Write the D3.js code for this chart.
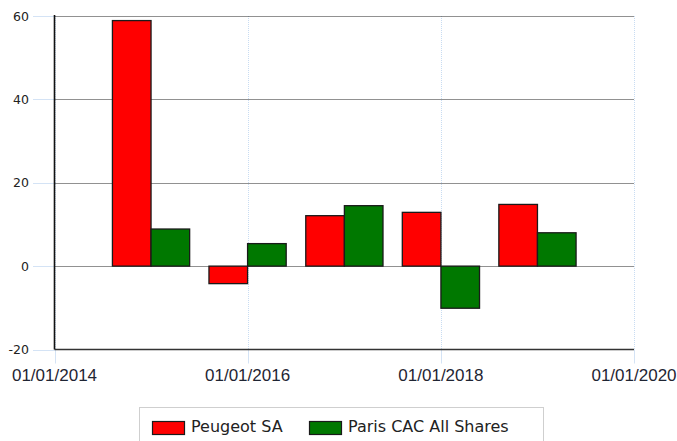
<!DOCTYPE html>
<html>
<head>
<meta charset="utf-8">
<script src="https://cdn.jsdelivr.net/npm/d3@7"></script>
<style>
  html, body { margin: 0; padding: 0; background: #fff; }
  svg { display: block; }
</style>
</head>
<body>
<svg id="chart" width="677" height="441"></svg>
<script>
// ---- data ----
const periods = ["2015-01-01", "2016-01-01", "2017-01-01", "2018-01-01", "2019-01-01"];
const seriesNames = ["Peugeot SA", "Paris CAC All Shares"];
const peugeot = [58.9, -4.2, 12.1, 12.9, 14.8];
const cac = [8.9, 5.4, 14.5, -10.1, 8.0];
const yTicks = [-20, 0, 20, 40, 60];
const xTickLabels = ["01/01/2014", "01/01/2016", "01/01/2018", "01/01/2020"];
const colors = ["#ff0000", "#007800"];

// ---- setup ----
const parse = d3.timeParse("%Y-%m-%d");
const parseTick = d3.timeParse("%d/%m/%Y");
const svg = d3.select("#chart");
const pLeft = 54.5, pRight = 634, pTop = 16, pBottom = 349.5;

const x = d3.scaleTime()
  .domain([parseTick("01/01/2014"), parseTick("01/01/2020")])
  .range([pLeft, pRight]);
const y = d3.scaleLinear().domain([-20, 60]).range([pBottom, pTop]);

const barDays = 146;
const xTickDates = xTickLabels.map(parseTick);

// vertical light-blue gridlines & ticks
const vg = svg.append("g");
xTickDates.forEach(d => {
  vg.append("line")
    .attr("x1", Math.round(x(d)) + 0.5).attr("x2", Math.round(x(d)) + 0.5)
    .attr("y1", pTop).attr("y2", pBottom)
    .attr("stroke", "#c8dcf2").attr("stroke-width", 1)
    .attr("stroke-dasharray", "1,1");
  vg.append("line")
    .attr("x1", Math.round(x(d)) + 0.5).attr("x2", Math.round(x(d)) + 0.5)
    .attr("y1", pBottom).attr("y2", pBottom + 14)
    .attr("stroke", "#d4e3f5").attr("stroke-width", 1);
});

// horizontal dotted gridlines
yTicks.filter(t => t > -20).forEach(t => {
  svg.append("line")
    .attr("x1", pLeft).attr("x2", pRight)
    .attr("y1", Math.round(y(t)) + 0.5).attr("y2", Math.round(y(t)) + 0.5)
    .attr("stroke", "#222").attr("stroke-width", 1)
    .attr("stroke-dasharray", "1,1");
});

// y tick marks (light blue) and labels
yTicks.forEach(t => {
  svg.append("line")
    .attr("x1", 33).attr("x2", pLeft)
    .attr("y1", Math.round(y(t)) + 0.5).attr("y2", Math.round(y(t)) + 0.5)
    .attr("stroke", "#d4e3f5").attr("stroke-width", 1);
  svg.append("text")
    .attr("x", 29).attr("y", y(t) + 4.5)
    .attr("text-anchor", "end")
    .attr("font-family", "'DejaVu Sans', Verdana, sans-serif")
    .attr("font-size", 12.5)
    .attr("fill", "#222")
    .text(String(t));
});

// bars
const groups = [peugeot, cac];
groups.forEach((vals, si) => {
  svg.append("g").selectAll("rect")
    .data(vals.map((v, i) => ({ v, d: parse(periods[i]) })))
    .join("rect")
    .attr("x", d => si === 0 ? x(d3.timeDay.offset(d.d, -barDays)) : x(d.d))
    .attr("width", d => x(d3.timeDay.offset(d.d, barDays)) - x(d.d))
    .attr("y", d => y(Math.max(0, d.v)))
    .attr("height", d => Math.abs(y(d.v) - y(0)))
    .attr("fill", colors[si])
    .attr("stroke", "#1a1a1a")
    .attr("stroke-width", 1.3);
});

// axes lines
svg.append("line")
  .attr("x1", pLeft).attr("x2", pLeft).attr("y1", pTop - 1).attr("y2", pBottom)
  .attr("stroke", "#111").attr("stroke-width", 1.6);
svg.append("line")
  .attr("x1", pLeft).attr("x2", pRight).attr("y1", pBottom).attr("y2", pBottom)
  .attr("stroke", "#333").attr("stroke-width", 1.5);

// x labels
xTickDates.forEach((d, i) => {
  svg.append("text")
    .attr("x", x(d)).attr("y", 381)
    .attr("text-anchor", "middle")
    .attr("font-family", "'Liberation Sans', Arial, sans-serif")
    .attr("font-size", 17)
    .attr("fill", "#1f2533")
    .text(xTickLabels[i]);
});

// legend
const lg = svg.append("g");
lg.append("rect")
  .attr("x", 139.5).attr("y", 407.5).attr("width", 404).attr("height", 45)
  .attr("fill", "#fff").attr("stroke", "#cfcfcf").attr("stroke-width", 1);
const legendX = [152, 309];
seriesNames.forEach((name, i) => {
  lg.append("rect")
    .attr("x", legendX[i] + 0.5).attr("y", 421.5).attr("width", 32).attr("height", 13)
    .attr("fill", colors[i]).attr("stroke", "#1a1a1a").attr("stroke-width", 1.2);
  lg.append("text")
    .attr("x", legendX[i] + 39).attr("y", 432)
    .attr("font-family", "'DejaVu Sans', Verdana, sans-serif")
    .attr("font-size", 16)
    .attr("fill", "#222")
    .text(name);
});
</script>
</body>
</html>
